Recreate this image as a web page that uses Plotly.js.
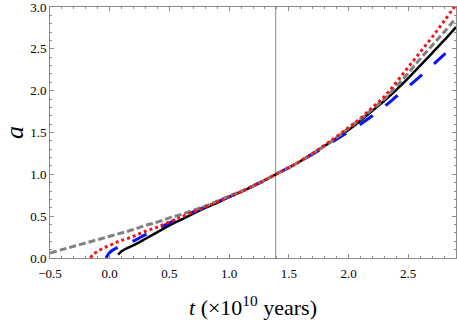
<!DOCTYPE html>
<html>
<head>
<meta charset="utf-8">
<script src="https://cdn.plot.ly/plotly-3.0.1.min.js"></script>
<style>
  html, body { margin: 0; padding: 0; background: #fff; }
  #chart { width: 457px; height: 324px; }
</style>
</head>
<body>
<div id="chart"></div>
<script>
// present age (x 10^10 years), marked by the vertical line
var tNow = [1.39];

// black solid
var tBlack = [0.07, 0.1, 0.15, 0.21, 0.3, 0.4, 0.5, 0.6, 0.7, 0.8, 0.9, 1.0, 1.1, 1.2, 1.3, 1.39, 1.5, 1.6, 1.7, 1.8, 1.9, 2.0, 2.1, 2.2, 2.3, 2.4, 2.5, 2.6, 2.7, 2.8, 2.9];
var aBlack = [0.04, 0.08, 0.12, 0.16, 0.23, 0.31, 0.39, 0.46, 0.53, 0.60, 0.66, 0.73, 0.79, 0.86, 0.93, 1.00, 1.08, 1.16, 1.25, 1.34, 1.43, 1.53, 1.64, 1.76, 1.88, 2.01, 2.15, 2.30, 2.45, 2.60, 2.76];

// blue long dashes
var tBlue = [-0.03, -0.01, 0.02, 0.07, 0.1, 0.21, 0.3, 0.4, 0.5, 0.6, 0.7, 0.8, 0.9, 1.0, 1.1, 1.2, 1.3, 1.39, 1.5, 1.6, 1.7, 1.8, 1.9, 2.0, 2.1, 2.2, 2.3, 2.4, 2.5, 2.6, 2.7, 2.8, 2.9];
var aBlue = [0.0, 0.05, 0.09, 0.13, 0.15, 0.21, 0.28, 0.35, 0.42, 0.49, 0.55, 0.61, 0.67, 0.73, 0.79, 0.86, 0.93, 1.00, 1.08, 1.16, 1.24, 1.33, 1.42, 1.51, 1.60, 1.70, 1.81, 1.93, 2.05, 2.17, 2.30, 2.43, 2.56];

// red dots
var tRed = [-0.16, -0.14, -0.1, -0.05, 0.0, 0.06, 0.1, 0.2, 0.3, 0.4, 0.5, 0.6, 0.7, 0.8, 0.9, 1.0, 1.1, 1.2, 1.3, 1.39, 1.5, 1.6, 1.7, 1.8, 1.9, 2.0, 2.1, 2.2, 2.3, 2.4, 2.5, 2.6, 2.7, 2.8, 2.9];
var aRed = [0.0, 0.04, 0.08, 0.12, 0.15, 0.19, 0.21, 0.26, 0.32, 0.37, 0.43, 0.49, 0.55, 0.61, 0.67, 0.73, 0.79, 0.86, 0.93, 1.00, 1.08, 1.16, 1.25, 1.35, 1.45, 1.56, 1.67, 1.80, 1.93, 2.10, 2.28, 2.46, 2.64, 2.83, 3.03];

// gray dashes
var tGray = [-0.5, -0.4, -0.3, -0.2, -0.1, 0.0, 0.1, 0.2, 0.3, 0.4, 0.5, 0.6, 0.7, 0.8, 0.9, 1.0, 1.1, 1.2, 1.3, 1.39, 1.5, 1.6, 1.7, 1.8, 1.9, 2.0, 2.1, 2.2, 2.3, 2.4, 2.5, 2.6, 2.7, 2.8, 2.9];
var aGray = [0.06, 0.10, 0.14, 0.18, 0.22, 0.26, 0.30, 0.34, 0.39, 0.43, 0.48, 0.52, 0.57, 0.62, 0.68, 0.74, 0.80, 0.86, 0.93, 1.00, 1.08, 1.16, 1.25, 1.34, 1.44, 1.55, 1.66, 1.78, 1.90, 2.05, 2.21, 2.38, 2.54, 2.70, 2.87];

var frameColor = '#8c8c8c';
var serif = '"Liberation Serif", "Times New Roman", serif';

var data = [
  {
    x: tNow.concat(tNow), y: [0, 3],
    type: 'scatter', mode: 'lines', hoverinfo: 'skip',
    line: { color: '#8a8a8a', width: 1 }
  },
  {
    x: tBlack, y: aBlack, type: 'scatter', mode: 'lines',
    line: { color: '#000000', width: 2.5, shape: 'spline' }
  },
  {
    x: tBlue, y: aBlue, type: 'scatter', mode: 'lines',
    line: { color: '#0a14f0', width: 3, dash: '16px,16px', shape: 'spline' }
  },
  {
    x: tGray, y: aGray, type: 'scatter', mode: 'lines',
    line: { color: '#808080', width: 3, dash: '7px,3px', shape: 'spline' }
  },
  {
    x: tRed, y: aRed, type: 'scatter', mode: 'lines',
    line: { color: '#f01414', width: 3, dash: 'dot', shape: 'spline' }
  }
];

var layout = {
  width: 457,
  height: 324,
  margin: { l: 50, r: 1, t: 7, b: 66 },
  paper_bgcolor: '#fff',
  plot_bgcolor: '#fff',
  showlegend: false,
  font: { family: serif, color: '#000', size: 13 },
  xaxis: {
    range: [-0.5, 2.9],
    dtick: 0.5, tick0: 0,
    tickformat: '.1f',
    ticks: 'inside', ticklen: 4, tickwidth: 1, tickcolor: frameColor,
    minor: { dtick: 0.1, ticks: 'inside', ticklen: 2, tickcolor: frameColor },
    showgrid: false, zeroline: false,
    showline: true, linecolor: frameColor, linewidth: 1, mirror: 'allticks',
    ticklabelstandoff: 3,
    ticklabeloverflow: 'allow',
    tickfont: { family: serif, size: 13, color: '#000' },
    title: { text: '<i>t</i> (×10<sup>10</sup> years)', font: { family: serif, size: 22, color: '#000' }, standoff: 20 }
  },
  yaxis: {
    range: [0, 3],
    dtick: 0.5, tick0: 0,
    tickformat: '.1f',
    ticks: 'inside', ticklen: 4, tickwidth: 1, tickcolor: frameColor,
    minor: { dtick: 0.1, ticks: 'inside', ticklen: 2, tickcolor: frameColor },
    showgrid: false, zeroline: false,
    showline: true, linecolor: frameColor, linewidth: 1, mirror: 'allticks',
    ticklabeloverflow: 'allow',
    tickfont: { family: serif, size: 13, color: '#000' },
    title: { text: '<i>a</i>', font: { family: serif, size: 26, color: '#000' }, standoff: 8 }
  }
};

Plotly.newPlot('chart', data, layout, { displayModeBar: false, staticPlot: true });
</script>
</body>
</html>
